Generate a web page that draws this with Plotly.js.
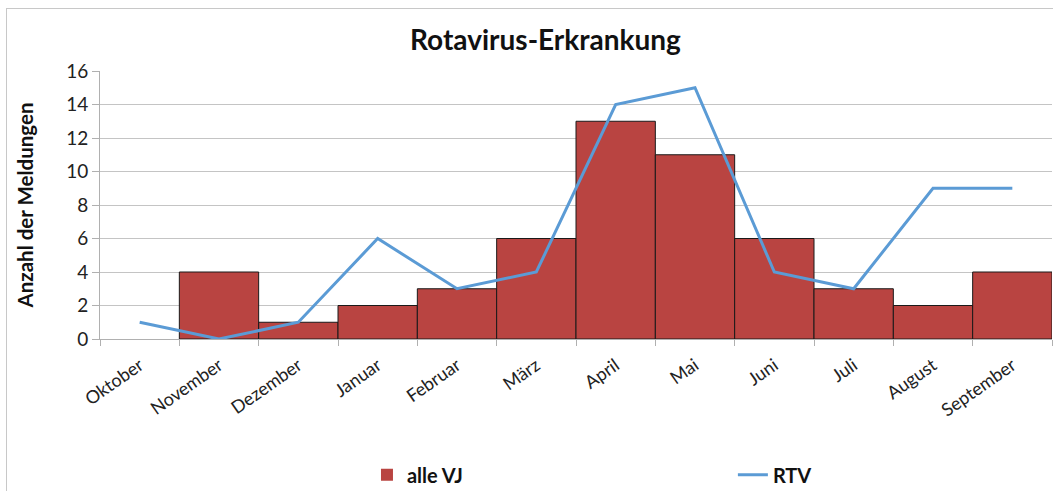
<!DOCTYPE html>
<html>
<head>
<meta charset="utf-8">
<script src="https://cdn.plot.ly/plotly-3.0.1.min.js"></script>
<style>
html,body{margin:0;padding:0;background:#fff;}
#wrap{position:relative;width:1053px;height:491px;overflow:hidden;}
#frame{position:absolute;left:6px;top:8px;width:1100px;height:600px;border:1px solid #c8c8c8;box-sizing:border-box;pointer-events:none;z-index:5;}
#chart{position:absolute;left:0;top:0;width:1053px;height:491px;}
</style>
</head>
<body>
<div id="wrap"><div id="chart"></div><div id="frame"></div></div>
<script>
const months = ["Oktober","November","Dezember","Januar","Februar","März","April","Mai","Juni","Juli","August","September"];
const alleVJ = [0,4,1,2,3,6,13,11,6,3,2,4];
const rtv = [1,0,1,6,3,4,14,15,4,3,9,9];
const yTicks = [0,2,4,6,8,10,12,14,16];

const FONT = "Lato, 'Open Sans', sans-serif";

const traces = [
  {type:"bar", name:"alle VJ", x:months, y:alleVJ, legend:"legend",
   marker:{color:"#B94441", line:{color:"#1a1a1a", width:alleVJ.map(v=>v>0?1:0)}}},
  {type:"scatter", mode:"lines", name:"RTV", x:months, y:rtv, legend:"legend2",
   line:{color:"#5B9BD5", width:3}}
];

const legFont = {size:20, family:FONT, color:"#111", weight:"bold"};
const layout = {
  width:1053, height:491,
  margin:{l:100, r:1, t:71, b:152, autoexpand:false},
  paper_bgcolor:"rgba(0,0,0,0)", plot_bgcolor:"#fff",
  bargap:0,
  font:{family:FONT, color:"#222"},
  title:{text:"<b>Rotavirus-Erkrankung</b>", font:{size:28, family:FONT, color:"#111"}, x:0.518, xanchor:"center", y:0.918, yanchor:"middle"},
  xaxis:{type:"category", range:[-0.5,11.5], tickangle:-35, tickfont:{size:18, family:FONT, color:"#222"},
    showline:true, linecolor:"#b0b0b0", linewidth:1, ticks:"outside", tickson:"boundaries", ticklen:6, tickcolor:"#b0b0b0",
    ticklabelstandoff:8, showgrid:false, fixedrange:true, automargin:false},
  yaxis:{range:[0,16], tickvals:yTicks, ticktext:yTicks.map(String), tickfont:{size:19, family:FONT, color:"#222"},
    showline:true, linecolor:"#b0b0b0", ticks:"outside", ticklen:7, tickcolor:"#b0b0b0",
    gridcolor:"#c4c4c4", gridwidth:1, zeroline:false, automargin:false,
    title:{text:"<b>Anzahl der Meldungen</b>", font:{size:20.5, family:FONT, color:"#111"}, standoff:26}},
  showlegend:true,
  legend:{orientation:"h", xref:"container", yref:"container", x:0.3485, xanchor:"left", y:0.033, yanchor:"middle",
    font:legFont, bgcolor:"rgba(0,0,0,0)"},
  legend2:{orientation:"h", xref:"container", yref:"container", x:0.696, xanchor:"left", y:0.033, yanchor:"middle",
    font:legFont, bgcolor:"rgba(0,0,0,0)"},
};

Plotly.newPlot("chart", traces, layout, {displayModeBar:false, staticPlot:true});
</script>
</body>
</html>
